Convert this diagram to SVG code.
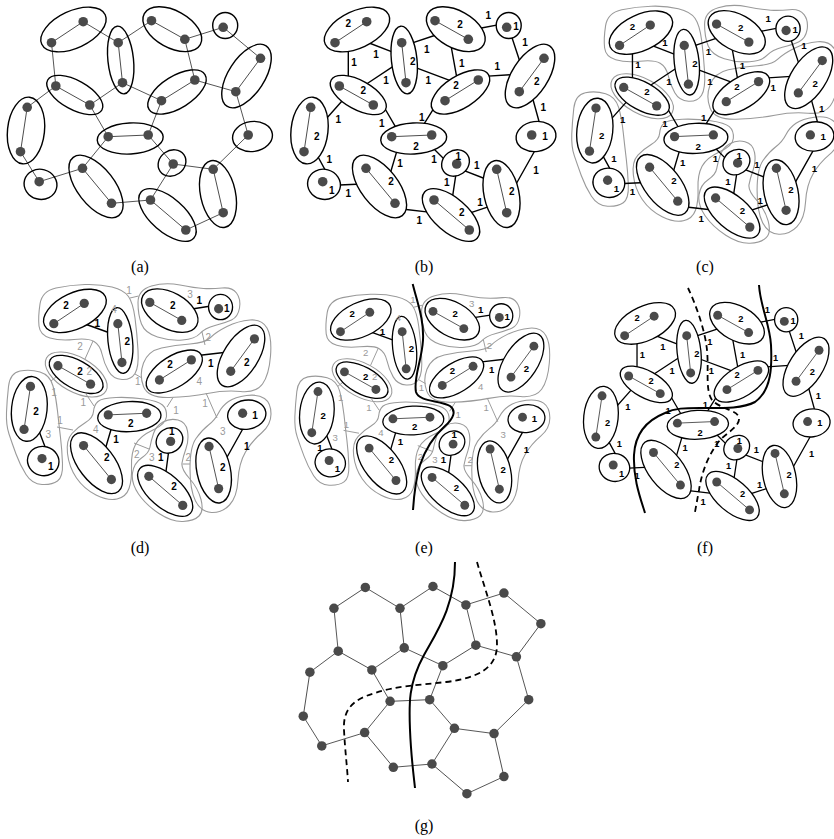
<svg xmlns="http://www.w3.org/2000/svg" width="834" height="839" viewBox="0 0 834 839">
<style>
.e{stroke-width:1.4}
.in{fill:none;stroke:#4d4d4d;stroke-width:1}
.ie{fill:none;stroke:#555;stroke-width:1}
.ce{fill:none;stroke:#000;stroke-width:1.4}
.dot{fill:#4a4a4a;stroke:none}
.lb{font-family:"Liberation Sans",Arial,Helvetica,sans-serif;font-size:10px;font-weight:bold;fill:#000;stroke:none;text-anchor:middle}
.lg{font-family:"Liberation Sans",Arial,Helvetica,sans-serif;font-size:10px;fill:#9a9a9a;stroke:none;text-anchor:middle}
.go{fill:none;stroke:#9a9a9a;stroke-width:1.1}
.ge{fill:none;stroke:#9a9a9a;stroke-width:1}
.cap{font-family:"Liberation Serif","Times New Roman",serif;font-size:16px;fill:#000;text-anchor:middle}
.cut{fill:none;stroke:#000;stroke-width:2}
.dash{fill:none;stroke:#000;stroke-width:1.8;stroke-dasharray:6 4}
</style>
<defs>
<g id="clusters">
<g id="cA"><ellipse class="e" cx="77" cy="29.5" rx="35" ry="18.5" transform="rotate(-25 77 29.5)"/><path class="in" d="M55,42.7L86.7,21.7"/><circle class="dot" cx="55" cy="42.7" r="4.8"/><circle class="dot" cx="86.7" cy="21.7" r="4.8"/></g>
<g id="cB"><ellipse class="e" cx="124.2" cy="60" rx="34" ry="12.8" transform="rotate(84 124.2 60)"/><path class="in" d="M121.7,42.7L126,82.7"/><circle class="dot" cx="121.7" cy="42.7" r="4.8"/><circle class="dot" cx="126" cy="82.7" r="4.8"/></g>
<g id="cC"><ellipse class="e" cx="175.8" cy="29.2" rx="32" ry="18.5" transform="rotate(29 175.8 29.2)"/><path class="in" d="M155,20.7L188.3,39.3"/><circle class="dot" cx="155" cy="20.7" r="4.8"/><circle class="dot" cx="188.3" cy="39.3" r="4.8"/></g>
<g id="cD"><ellipse class="e" cx="228.7" cy="25.5" rx="12.5" ry="13"/><circle class="dot" cx="226.7" cy="27.3" r="4.8"/></g>
<g id="cE"><ellipse class="e" cx="250" cy="76" rx="36" ry="18" transform="rotate(-57 250 76)"/><path class="in" d="M264,58.3L239.3,91.7"/><circle class="dot" cx="264" cy="58.3" r="4.8"/><circle class="dot" cx="239.3" cy="91.7" r="4.8"/></g>
<g id="cF"><ellipse class="e" cx="180.5" cy="92" rx="33" ry="16" transform="rotate(-32 180.5 92)"/><path class="in" d="M198.3,80L165,100.7"/><circle class="dot" cx="198.3" cy="80" r="4.8"/><circle class="dot" cx="165" cy="100.7" r="4.8"/></g>
<g id="cG"><ellipse class="e" cx="78.3" cy="95" rx="31" ry="14.5" transform="rotate(29 78.3 95)"/><path class="in" d="M59.3,86L93.3,105"/><circle class="dot" cx="59.3" cy="86" r="4.8"/><circle class="dot" cx="93.3" cy="105" r="4.8"/></g>
<g id="cH"><ellipse class="e" cx="29.5" cy="130.5" rx="33.5" ry="18.5" transform="rotate(96 29.5 130.5)"/><path class="in" d="M30.7,107.3L24,151.7"/><circle class="dot" cx="30.7" cy="107.3" r="4.8"/><circle class="dot" cx="24" cy="151.7" r="4.8"/></g>
<g id="cI"><ellipse class="e" cx="44" cy="184.3" rx="16.5" ry="15" transform="rotate(15 44 184.3)"/><circle class="dot" cx="42.7" cy="181.7" r="4.8"/></g>
<g id="cJ"><ellipse class="e" cx="133.7" cy="138.5" rx="33" ry="15.5" transform="rotate(-3 133.7 138.5)"/><path class="in" d="M111.7,136.7L151.7,135"/><circle class="dot" cx="111.7" cy="136.7" r="4.8"/><circle class="dot" cx="151.7" cy="135" r="4.8"/></g>
<g id="cK"><ellipse class="e" cx="256" cy="136.5" rx="20" ry="15" transform="rotate(-8 256 136.5)"/><circle class="dot" cx="251.7" cy="135" r="4.8"/></g>
<g id="cL"><ellipse class="e" cx="99.5" cy="186.5" rx="37" ry="18.5" transform="rotate(52 99.5 186.5)"/><path class="in" d="M86,168.3L115,203.3"/><circle class="dot" cx="86" cy="168.3" r="4.8"/><circle class="dot" cx="115" cy="203.3" r="4.8"/></g>
<g id="cM"><ellipse class="e" cx="175.5" cy="163" rx="14.5" ry="12.5" transform="rotate(-35 175.5 163)"/><circle class="dot" cx="176.7" cy="164" r="4.8"/></g>
<g id="cN"><ellipse class="e" cx="221.5" cy="194" rx="34" ry="17.5" transform="rotate(78 221.5 194)"/><path class="in" d="M216.7,169.3L226.7,212.7"/><circle class="dot" cx="216.7" cy="169.3" r="4.8"/><circle class="dot" cx="226.7" cy="212.7" r="4.8"/></g>
<g id="cO"><ellipse class="e" cx="171" cy="215" rx="35" ry="17" transform="rotate(41 171 215)"/><path class="in" d="M154,200L189.3,230"/><circle class="dot" cx="154" cy="200" r="4.8"/><circle class="dot" cx="189.3" cy="230" r="4.8"/></g>
</g>
<path id="inter" class="ie" d="M86.7,21.7L121.7,42.7M55,42.7L59.3,86M126,82.7L93.3,105M126,82.7L165,100.7M121.7,42.7L155,20.7M188.3,39.3L198.3,80M188.3,39.3L226.7,27.3M226.7,27.3L264,58.3M198.3,80L239.3,91.7M239.3,91.7L251.7,135M59.3,86L30.7,107.3M93.3,105L111.7,136.7M165,100.7L151.7,135M24,151.7L42.7,181.7M42.7,181.7L86,168.3M111.7,136.7L86,168.3M151.7,135L176.7,164M176.7,164L216.7,169.3M176.7,164L154,200M115,203.3L154,200M189.3,230L226.7,212.7M251.7,135L216.7,169.3"/>
<path id="bedges" class="ce" d="M68.3,40L68.3,82M82.7,40.5L117.3,53.9M85,85L117.7,63.4M130.9,43.4L156,35M134.4,67.2L172.3,81.4M170.6,43.4L176.8,77.6M197.4,28.8L223.2,23.9M229.8,31L239.6,60.7M204,76.4L232,74.6M252,96L260,125M64,98.8L42.7,122.8M103.7,106.5L118,131.2M154.9,106.6L140.8,129.1M37,155L47.7,174.6M54,185.3L82,184M118.4,145.9L109.5,176M152.5,147.5L167.5,162.5M177.1,167.8L209.6,180.5M176.6,169.8L172.4,197.6M124,209.3L151,212.4M191,212.6L216.4,204.1M257.2,146.5L235,186"/>
<g id="blabels" class="lb">
<text x="68.3" y="26.9">2</text><text x="132.7" y="65.3">2</text><text x="180" y="27.6">2</text><text x="176" y="88.6">2</text><text x="256.7" y="85.3">2</text><text x="83.3" y="94.3">2</text><text x="36.7" y="139.6">2</text><text x="136" y="150.3">2</text><text x="111" y="185.3">2</text><text x="231.7" y="195.3">2</text><text x="181.7" y="216.3">2</text>
<text x="236" y="30.3">1</text><text x="265" y="140.3">1</text><text x="51.7" y="194.3">1</text><text x="178.3" y="159.6">1</text>
<text x="74" y="66.3">1</text><text x="106" y="83.6">1</text><text x="146.7" y="52.9">1</text><text x="148.3" y="83.6">1</text><text x="181.7" y="66.9">1</text><text x="208.3" y="18.6">1</text><text x="245" y="46.3">1</text><text x="263.3" y="110.9">1</text><text x="58.3" y="122.9">1</text><text x="101.7" y="126.9">1</text><text x="141.7" y="120.9">1</text><text x="49.3" y="162.9">1</text><text x="68.3" y="196.9">1</text><text x="120" y="166.9">1</text><text x="154" y="162.9">1</text><text x="196.7" y="169.3">1</text><text x="166.7" y="186.3">1</text><text x="139.3" y="224.3">1</text><text x="200" y="206.3">1</text><text x="256" y="173.6">1</text>
</g>
<g id="outlines" class="go">
<path d="M39,51Q38,42 40,29Q42,16 56,13Q70,10 85,9.5Q100,9 112,12Q124,15 128.5,21.5Q133,28 135,43Q137,58 138,75Q139,92 135,98.5Q131,105 122,104.5Q113,104 108.5,96Q104,88 102,79Q100,70 94,66.5Q88,63 74,64.5Q60,66 50,63Q40,60 39,51Z"/>
<path d="M141.5,49Q138,40 138,27.5Q138,15 151.5,11Q165,7 180,10Q195,13 203.5,13.5Q212,14 222,13Q232,12 236.5,18Q241,24 239.5,33Q238,42 231.5,45Q225,48 215,50.5Q205,53 200,58.5Q195,64 182.5,65Q170,66 157.5,62Q145,58 141.5,49Z"/>
<path d="M143.5,111.5Q139,100 143.5,88Q148,76 161.5,73Q175,70 190,69Q205,68 210.5,62.5Q216,57 227,51.5Q238,46 250,45Q262,44 267,53Q272,62 270.5,81Q269,100 262.5,109Q256,118 240.5,116.5Q225,115 207.5,118.5Q190,122 169,122.5Q148,123 143.5,111.5Z"/>
<ellipse cx="76.2" cy="99.5" rx="34" ry="17.5" transform="rotate(29 76.2 99.5)"/>
<path d="M6.5,137.5Q7,125 8.5,111.5Q10,98 20,96Q30,94 40,97Q50,100 53,111Q56,122 57.5,136Q59,150 60.5,162.5Q62,175 62.5,188.5Q63,202 57.5,206Q52,210 42,209.5Q32,209 26,199.5Q20,190 16,179Q12,168 9,159Q6,150 6.5,137.5Z"/>
<path d="M93.5,136.5Q94,130 98,126.5Q102,123 116,122.5Q130,122 144,124Q158,126 162.5,130Q167,134 166.5,141.5Q166,149 153,155Q140,161 135.5,169.5Q131,178 131.5,191.5Q132,205 129,213.5Q126,222 117,224Q108,226 96,220Q84,214 76.5,203Q69,192 67.5,178.5Q66,165 72,158.5Q78,152 85.5,147.5Q93,143 93.5,136.5Z"/>
<path d="M150,172Q151,166 153.5,158.5Q156,151 163,147Q170,143 178,145Q186,147 187.5,156Q189,165 186,173.5Q183,182 182,188Q181,194 189.5,203.5Q198,213 201,224.5Q204,236 199,241Q194,246 183,246.5Q172,247 159,238.5Q146,230 138.5,219Q131,208 132.5,198Q134,188 141.5,183Q149,178 150,172Z"/>
<path d="M208.5,150Q215,145 218.5,138Q222,131 228.5,126.5Q235,122 246.5,120.5Q258,119 264.5,123.5Q271,128 271,139Q271,150 261.5,158Q252,166 245.5,177Q239,188 238,205Q237,222 229.5,230Q222,238 211.5,237.5Q201,237 195.5,226Q190,215 190,193.5Q190,172 196,163.5Q202,155 208.5,150Z"/>
</g>
<g id="dpanel">
<use href="#outlines"/>
<path class="ge" d="M130,23L138.5,21M85,84L93,66M202,57L205,70M135,99L142,103M51,106L57,101M86,119L94,131M57,152L73,155M173,122.5L167,132M206,118L217,143M134,168L149,174M182.5,189L190,189"/>
<path class="ce" d="M85,49L110,58M192,34L211,31M198,80.5L224,77.5M39,156L45.5,173M113.5,146L105,175M169,174L165.5,200M245,150L226,184"/>
<use href="#clusters" fill="#fff" stroke="#000" transform="matrix(0.96,0,0,0.97,1,7.3)"/>
<g class="lg">
<text x="129" y="18.6">1</text><text x="114" y="37.6">4</text><text x="190" y="22.9">3</text><text x="80" y="74.6">2</text><text x="208.3" y="66.3">2</text><text x="137.7" y="110.3">1</text><text x="199.3" y="109.6">4</text><text x="89.3" y="99.7">2</text><text x="54" y="120.9">1</text><text x="83.3" y="131.3">1</text><text x="60" y="149.3">1</text><text x="48.3" y="162.9">3</text><text x="95.7" y="157.6">4</text><text x="176" y="138.6">1</text><text x="205" y="131.9">1</text><text x="222.7" y="159.6">3</text><text x="136.7" y="182.9">2</text><text x="151.7" y="186.3">3</text><text x="188.3" y="186.3">2</text>
</g>
<g class="lb">
<text x="66" y="33.6">2</text><text x="127.3" y="69.6">2</text><text x="172.7" y="33.6">2</text><text x="226.7" y="36.9">1</text><text x="246.7" y="90.9">2</text><text x="170" y="92.9">2</text><text x="80" y="99.7">2</text><text x="36" y="140.3">2</text><text x="50.7" y="195.3">1</text><text x="130.7" y="151.9">2</text><text x="106.7" y="186.3">2</text><text x="171.7" y="159.6">1</text><text x="222.7" y="196.3">2</text><text x="174" y="215.3">2</text><text x="255" y="143.6">1</text>
<text x="97.3" y="51.9">1</text><text x="199.3" y="28.6">1</text><text x="210.7" y="91.9">1</text><text x="116" y="167.6">1</text><text x="160.7" y="186.3">1</text><text x="246.7" y="175.3">1</text>
</g>
</g>
</defs>
<rect width="834" height="839" fill="#fff"/>
<g id="panel-a" transform="translate(-3.5,0)">
<use href="#inter"/>
<use href="#clusters" fill="none" stroke="#000"/>
</g>
<g id="panel-b" transform="translate(280,0)">
<use href="#bedges"/>
<use href="#clusters" fill="#fff" stroke="#000"/>
<use href="#blabels"/>
<g class="lb"><text x="96" y="57.6">1</text><text x="217.3" y="70.3">1</text></g>
</g>
<g id="panel-c">
<use href="#outlines" transform="matrix(1.01,0,0,1,565.2,-3.3)"/>
<g transform="matrix(0.97,0,0,0.97,566.2,4)">
<use href="#bedges"/>
<use href="#clusters" fill="#fff" stroke="#000"/>
<use href="#blabels"/>
<g class="lb"><text x="101.9" y="43.5">1</text><text x="213.5" y="89.5">1</text></g>
</g>
</g>
<use id="panel-d" href="#dpanel" transform="translate(0,275)"/>
<g id="panel-e">
<use href="#dpanel" transform="matrix(0.964,0,0,0.955,288.6,285.2)"/>
<text class="lb" x="320" y="451" style="font-size:9.5px">1</text>
<path class="cut" d="M412.7,284C418,305 424,320 423,340C422,360 413,378 416,392C419,402 440,400 450,406C457,411 453,419 445,426C434,436 425,450 420,465C415,482 414,495 413,510"/>
</g>
<g id="panel-f">
<g transform="matrix(0.93,0,0,0.93,573.5,296)">
<use href="#bedges"/>
<use href="#clusters" fill="#fff" stroke="#000"/>
<use href="#blabels"/>
<g class="lb"><text x="96" y="57.6">1</text><text x="217.3" y="70.3">1</text></g>
</g>
<path class="cut" d="M759,285C760,305 770,325 771,345C772,365 772,390 755,402C742,409 720,408 700,408C685,408 675,408 665,413C645,421 635,435 634,455C633,478 640,497 645,513"/>
<path class="dash" d="M688,288C696,305 705,330 707,350C709,370 705,390 712,400C720,409 738,410 739,418C740,426 728,432 720,440C710,452 702,470 699,490L695,512"/>
</g>
<g id="panel-g">
<g transform="matrix(0.99,0,0,0.99,279.5,566)">
<use href="#inter"/>
<use href="#clusters" fill="none" stroke="none"/>
</g>
<path class="cut" d="M455,562C455,605 438,630 424,655C408,684 409,705 410,730C411,755 413,770 415,788"/>
<path class="dash" d="M477,562C485,590 497,620 497,645C497,668 478,678 446,682C420,685 395,686 375,693C350,700 343,712 344,730C345,750 347,765 348,782"/>
</g>
<g id="captions" class="cap">
<text x="140" y="272">(a)</text><text x="424" y="272">(b)</text><text x="705" y="272">(c)</text>
<text x="140" y="553">(d)</text><text x="424" y="553">(e)</text><text x="705" y="553">(f)</text>
<text x="424" y="831">(g)</text>
</g>
</svg>
